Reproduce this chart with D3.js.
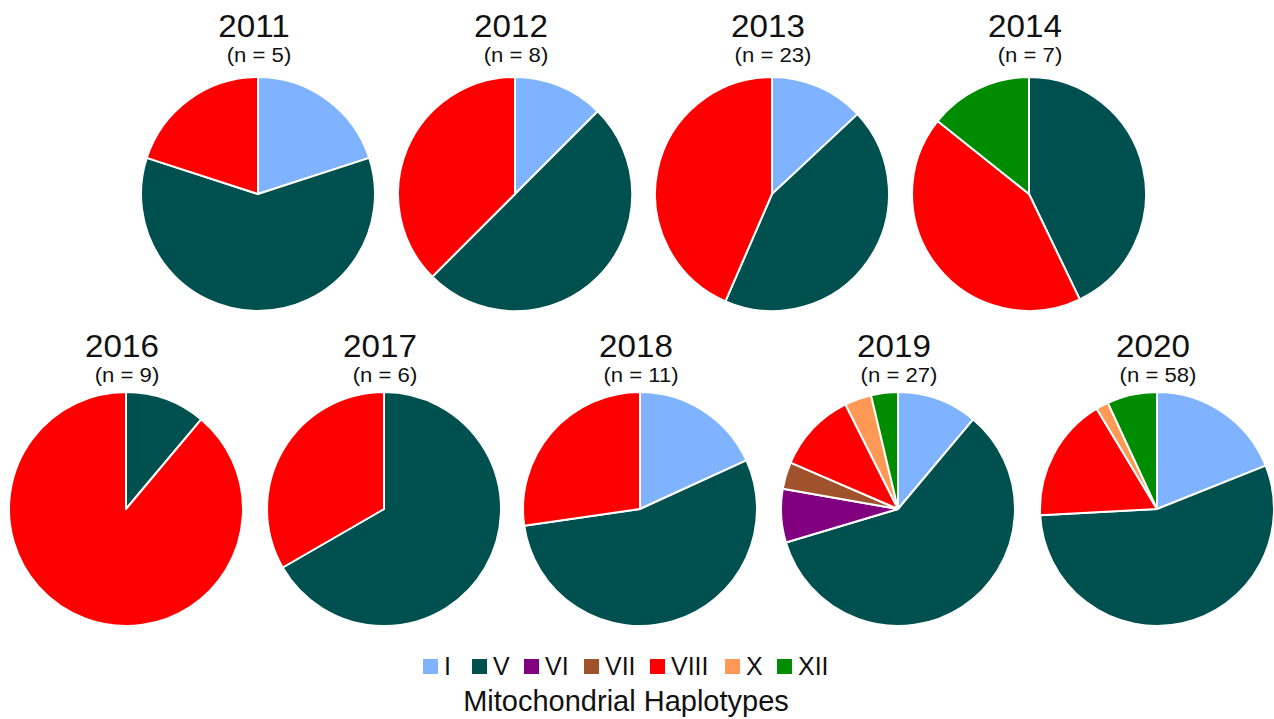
<!DOCTYPE html>
<html>
<head>
<meta charset="utf-8">
<script src="https://cdn.jsdelivr.net/npm/d3@7"></script>
<style>
  body { margin: 0; background: #fff; }
  text { font-family: "Liberation Sans", Arial, sans-serif; fill: #111; }
</style>
</head>
<body>
<div id="chart"></div>
<script>
// haplotype categories and colours
var haplotypes = ["I", "V", "VI", "VII", "VIII", "X", "XII"];
var hapColors = ["#80b3ff", "#005050", "#800080", "#a0522d", "#ff0000", "#ff9955", "#008c00"];

// sampling years, counts per haplotype (same order as haplotypes)
var years = ["2011", "2012", "2013", "2014", "2016", "2017", "2018", "2019", "2020"];
var counts = [
  [1, 3, 0, 0, 1, 0, 0],
  [1, 4, 0, 0, 3, 0, 0],
  [3, 10, 0, 0, 10, 0, 0],
  [0, 3, 0, 0, 3, 0, 1],
  [0, 1, 0, 0, 8, 0, 0],
  [0, 4, 0, 0, 2, 0, 0],
  [2, 6, 0, 0, 3, 0, 0],
  [3, 16, 2, 1, 3, 1, 1],
  [11, 32, 0, 0, 10, 1, 4]
];

var svgWidth = 1274;
var svgHeight = 719;
var radius = 117;

// where each pie sits (row layout) and how far above it the titles sit
var rowTop = { y: 194, xs: [258, 515, 772, 1029], yearOff: 40, nOff: 15 };
var rowBottom = { y: 509, xs: [126, 384, 640, 898, 1157], yearOff: 35, nOff: 10 };
var slots = rowTop.xs.map(x => ({ x: x, row: rowTop }))
  .concat(rowBottom.xs.map(x => ({ x: x, row: rowBottom })));

var color = d3.scaleOrdinal().domain(haplotypes).range(hapColors);

var svg = d3.select("#chart")
  .append("svg")
  .attr("width", svgWidth)
  .attr("height", svgHeight);

var pie = d3.pie().sort(null).value(d => d.n);
var arc = d3.arc().innerRadius(0).outerRadius(radius);

years.forEach(function(yr, i) {
  var data = haplotypes.map((h, j) => ({ hap: h, n: counts[i][j] })).filter(d => d.n > 0);
  var total = d3.sum(data, d => d.n);
  var s = slots[i];
  var g = svg.append("g")
    .attr("transform", `translate(${s.x}, ${s.row.y})`);

  g.selectAll("path")
    .data(pie(data))
    .enter()
    .append("path")
    .attr("d", arc)
    .attr("fill", d => color(d.data.hap))
    .attr("stroke", "#fff")
    .attr("stroke-width", 2)
    .attr("stroke-linejoin", "round");

  // the original titles look a bit wide, so stretch them slightly
  g.append("text")
    .attr("transform", `translate(-4, ${-radius - s.row.yearOff}) scale(1.07, 1)`)
    .attr("text-anchor", "middle")
    .style("font-size", "31px")
    .text(yr);

  g.append("text")
    .attr("transform", `translate(1, ${-radius - s.row.nOff}) scale(1.08, 1)`)
    .attr("text-anchor", "middle")
    .style("font-size", "20.5px")
    .text(`(n = ${total})`);
});

// legend
var legendX = [423, 472, 524, 584, 650, 725, 777];
var legend = svg.append("g");
haplotypes.forEach(function(h, i) {
  legend.append("rect")
    .attr("x", legendX[i])
    .attr("y", 659)
    .attr("width", 15)
    .attr("height", 15)
    .attr("fill", color(h));
  legend.append("text")
    .attr("x", legendX[i] + 21)
    .attr("y", 675)
    .style("font-size", "25px")
    .text(h);
});

svg.append("text")
  .attr("x", 626)
  .attr("y", 711)
  .attr("text-anchor", "middle")
  .style("font-size", "29px")
  .text("Mitochondrial Haplotypes");
</script>
</body>
</html>
